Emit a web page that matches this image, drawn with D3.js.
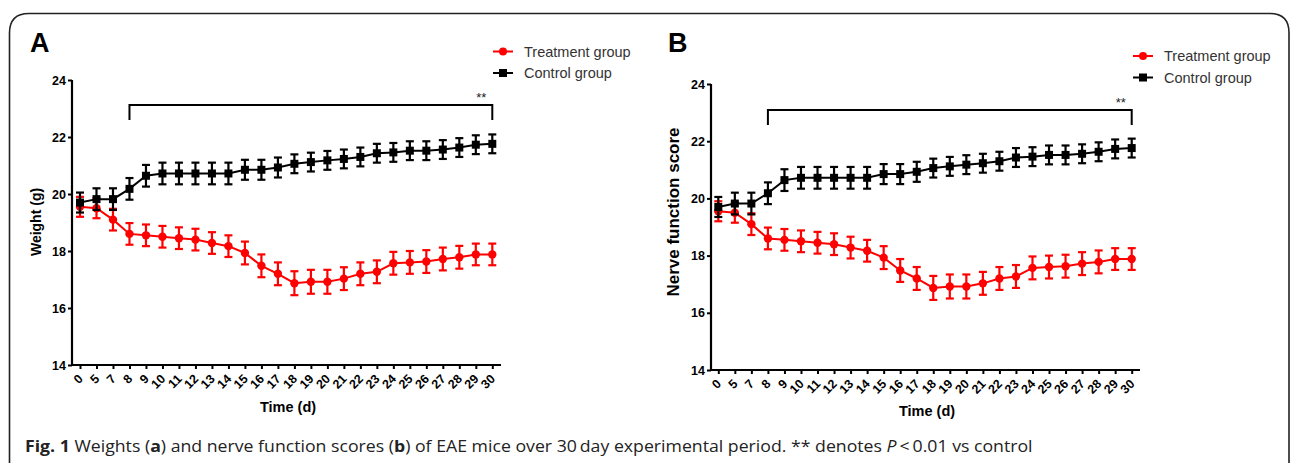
<!DOCTYPE html>
<html>
<head>
<meta charset="utf-8">
<script src="https://cdn.jsdelivr.net/npm/d3@7"></script>
<style>
  body { margin: 0; background: #fff; }
  svg { display: block; }
</style>
</head>
<body>
<div id="chart"></div>
<script>
// days on the x axis (categorical, not evenly spaced)
var days = ["0","5","7","8","9","10","11","12","13","14","15","16","17","18","19","20",
            "21","22","23","24","25","26","27","28","29","30"];

// mean values
var treatMean = [19.55,19.5,19.1,18.6,18.55,18.5,18.45,18.4,18.28,18.17,17.93,17.48,17.2,
                 16.87,16.92,16.92,17.03,17.2,17.27,17.57,17.6,17.63,17.72,17.78,17.88,17.88];
var ctrlMean = [19.7,19.82,19.82,20.18,20.64,20.72,20.72,20.72,20.72,20.72,20.85,20.85,20.93,
                21.06,21.12,21.18,21.23,21.3,21.43,21.46,21.52,21.52,21.56,21.63,21.73,21.76];
// error bar half-widths
var treatErr = [0.35,0.35,0.38,0.38,0.38,0.38,0.38,0.38,0.38,0.38,0.4,0.4,0.4,
                0.42,0.42,0.42,0.4,0.4,0.4,0.4,0.4,0.4,0.4,0.4,0.38,0.38];
var ctrlErr = [0.35,0.38,0.38,0.38,0.38,0.38,0.38,0.38,0.38,0.38,0.35,0.35,0.35,
               0.33,0.33,0.33,0.33,0.33,0.33,0.33,0.33,0.33,0.33,0.33,0.33,0.33];

var yTicks = [14,16,18,20,22,24];
var seriesNames = ["Treatment group","Control group"];
var panelLetters = ["A","B"];
var yTitles = ["Weight (g)","Nerve function score"];

const W = 1290, H = 463;
const RED = "#ff0000";
const FONT = "'Liberation Sans', Arial, Helvetica, sans-serif";

var svg = d3.select("#chart").append("svg")
  .attr("width", W).attr("height", H);

// outer rounded frame
svg.append("path")
  .attr("d", "M9.5,470 V33 Q9.5,13.5 29,13.5 H1270 Q1289,13.5 1289,33 V470")
  .attr("fill", "none")
  .attr("stroke", "#222")
  .attr("stroke-width", 1.6);

function drawPanel(cfg) {
  var x = d3.scalePoint().domain(days).range([cfg.x0, cfg.x1]);
  var y = d3.scaleLinear().domain([14, 24]).range([cfg.yBottom, cfg.yTop]);

  var g = svg.append("g");

  // y axis
  var yAx = g.append("g")
    .attr("transform", `translate(${cfg.axisX},0)`)
    .call(d3.axisLeft(y).tickValues(yTicks).tickSize(4).tickSizeOuter(0).tickPadding(2));
  yAx.select(".domain").attr("stroke-width", 2.2).attr("d", `M0,${cfg.yBottom}V${cfg.yTop}`);
  yAx.selectAll(".tick line").attr("stroke-width", 2);
  yAx.selectAll("text")
    .style("font-family", FONT)
    .style("font-weight", "bold")
    .style("font-size", "12.5px");

  // x axis (labels drawn separately, rotated)
  var xAx = g.append("g")
    .attr("transform", `translate(0,${cfg.yBottom})`)
    .call(d3.axisBottom(x).tickSize(4).tickSizeOuter(0).tickFormat(""));
  xAx.select(".domain").attr("stroke-width", 2.2).attr("d", `M${cfg.axisX},0H${cfg.axisEnd}`);
  xAx.selectAll(".tick line").attr("stroke-width", 2);

  g.append("g").selectAll("text").data(days).join("text")
    .attr("transform", d => `translate(${x(d) - 3},${cfg.yBottom + 8}) rotate(-45)`)
    .attr("text-anchor", "end")
    .attr("dy", "0.75em")
    .style("font-family", FONT)
    .style("font-weight", "bold")
    .style("font-size", "12.5px")
    .text(d => d);

  // axis titles
  g.append("text")
    .attr("transform", `translate(${cfg.yTitleX},${cfg.yTitleY}) rotate(-90)`)
    .attr("text-anchor", "middle")
    .style("font-family", FONT)
    .style("font-weight", "bold")
    .style("font-size", cfg.yTitleSize + "px")
    .text(cfg.yTitle);

  g.append("text")
    .attr("x", cfg.xTitleX).attr("y", cfg.xTitleY)
    .attr("text-anchor", "middle")
    .style("font-family", FONT)
    .style("font-weight", "bold")
    .style("font-size", "14.5px")
    .text("Time (d)");

  // panel letter
  g.append("text")
    .attr("x", cfg.letterX).attr("y", 52)
    .style("font-family", FONT)
    .style("font-weight", "bold")
    .style("font-size", "27px")
    .text(cfg.letter);

  // significance bracket from day 8 to day 30
  var bx0 = x("8"), bx1 = x("30");
  g.append("path")
    .attr("d", `M${bx0},${cfg.bracketY + 15}V${cfg.bracketY}H${bx1}V${cfg.bracketY + 15}`)
    .attr("fill", "none").attr("stroke", "#000").attr("stroke-width", 2);
  g.append("text")
    .attr("x", bx1 - 11).attr("y", cfg.bracketY - 3)
    .attr("text-anchor", "middle")
    .style("font-family", FONT)
    .style("font-size", "13px")
    .attr("fill", "#222")
    .text("**");

  var series = [
    {name: seriesNames[0], mean: treatMean, err: treatErr, color: RED, shape: "circle"},
    {name: seriesNames[1], mean: ctrlMean, err: ctrlErr, color: "#000", shape: "square"}
  ];

  var line = d3.line().x((d, i) => x(days[i])).y(d => y(d));

  series.forEach(function(s) {
    var sg = g.append("g");
    var pts = s.mean.map((m, i) => ({day: days[i], m: m, e: s.err[i]}));

    sg.append("path")
      .attr("d", line(s.mean))
      .attr("fill", "none").attr("stroke", s.color).attr("stroke-width", 2);

    var eb = sg.selectAll(".eb").data(pts).join("g");
    eb.append("line")
      .attr("x1", d => x(d.day)).attr("x2", d => x(d.day))
      .attr("y1", d => y(d.m - d.e)).attr("y2", d => y(d.m + d.e))
      .attr("stroke", s.color).attr("stroke-width", 2.2);
    eb.append("line")
      .attr("x1", d => x(d.day) - 4).attr("x2", d => x(d.day) + 4)
      .attr("y1", d => y(d.m + d.e)).attr("y2", d => y(d.m + d.e))
      .attr("stroke", s.color).attr("stroke-width", 2.2);
    eb.append("line")
      .attr("x1", d => x(d.day) - 4).attr("x2", d => x(d.day) + 4)
      .attr("y1", d => y(d.m - d.e)).attr("y2", d => y(d.m - d.e))
      .attr("stroke", s.color).attr("stroke-width", 2.2);

    if (s.shape === "circle") {
      sg.selectAll(".mk").data(pts).join("circle")
        .attr("cx", d => x(d.day)).attr("cy", d => y(d.m)).attr("r", 4.2)
        .attr("fill", s.color);
    } else {
      sg.selectAll(".mk").data(pts).join("rect")
        .attr("x", d => x(d.day) - 4).attr("y", d => y(d.m) - 4)
        .attr("width", 8).attr("height", 8)
        .attr("fill", s.color);
    }
  });

  // legend
  var lg = g.append("g");
  series.forEach(function(s, i) {
    var ly = cfg.legendY + i * 21.5;
    lg.append("line")
      .attr("x1", cfg.legendX).attr("x2", cfg.legendX + 20)
      .attr("y1", ly).attr("y2", ly)
      .attr("stroke", s.color).attr("stroke-width", 2);
    if (s.shape === "circle") {
      lg.append("circle").attr("cx", cfg.legendX + 10).attr("cy", ly).attr("r", 4).attr("fill", s.color);
    } else {
      lg.append("rect").attr("x", cfg.legendX + 6).attr("y", ly - 4)
        .attr("width", 8).attr("height", 8).attr("fill", s.color);
    }
    lg.append("text")
      .attr("x", cfg.legendX + 31).attr("y", ly)
      .attr("dy", "0.35em")
      .style("font-family", FONT)
      .style("font-size", "14.5px")
      .attr("fill", "#333")
      .text(s.name);
  });
}

drawPanel({
  letter: panelLetters[0], letterX: 30,
  x0: 80, x1: 492.3, axisX: 72, axisEnd: 501,
  yTop: 80, yBottom: 365,
  yTitle: yTitles[0], yTitleX: 41, yTitleY: 222, yTitleSize: 14,
  xTitleX: 288, xTitleY: 412,
  bracketY: 105, legendX: 493, legendY: 51.5
});

drawPanel({
  letter: panelLetters[1], letterX: 668,
  x0: 718.3, x1: 1131.7, axisX: 711, axisEnd: 1140,
  yTop: 84, yBottom: 370,
  yTitle: yTitles[1], yTitleX: 679, yTitleY: 212, yTitleSize: 17,
  xTitleX: 927, xTitleY: 416,
  bracketY: 110, legendX: 1133, legendY: 56
});

// caption
var cap = svg.append("text")
  .attr("x", 0).attr("y", 0)
  .style("font-family", "'Open Sans', 'Noto Sans', sans-serif")
  .style("font-size", "16px")
  .attr("fill", "#222");
cap.append("tspan").style("font-weight", "bold").text("Fig. 1");
cap.append("tspan").text(" Weights (");
cap.append("tspan").style("font-weight", "bold").text("a");
cap.append("tspan").text(") and nerve function scores (");
cap.append("tspan").style("font-weight", "bold").text("b");
cap.append("tspan").text(") of EAE mice over 30\u2009day experimental period. ** denotes ");
cap.append("tspan").style("font-style", "italic").text("P");
cap.append("tspan").text("\u2009<\u20090.01 vs control");
var capW = cap.node().getComputedTextLength();
var sx = (1033 - 25) / capW;
cap.attr("transform", `translate(25,451.5) scale(${sx},1)`);
</script>
</body>
</html>
